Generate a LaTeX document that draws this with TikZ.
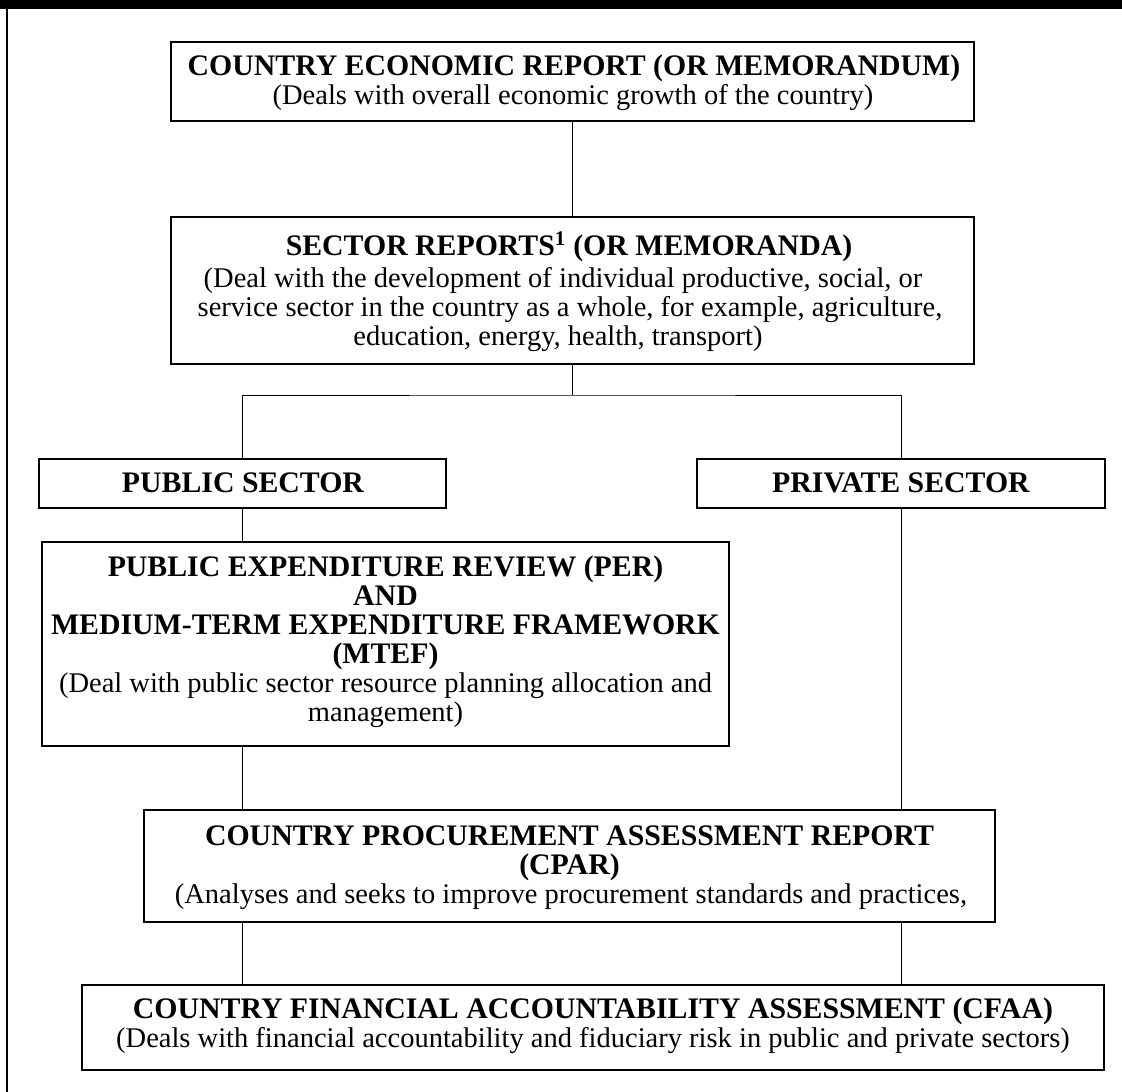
\documentclass[tikz,border=0pt]{standalone}
\usepackage{fontspec}
\setmainfont{Liberation Serif}
\begin{document}
\begin{tikzpicture}[x=1pt,y=-1pt,
  box/.style={draw, line width=1.6pt, inner sep=0pt, rectangle},
  conn/.style={draw, line width=1pt},
  ttl/.style={font=\fontsize{29.8}{30}\selectfont\bfseries, anchor=base, inner sep=0pt},
  sub/.style={font=\fontsize{28.5}{29}\selectfont, anchor=base, inner sep=0pt}]
\useasboundingbox (0,0) rectangle (1122,1092);
\fill[white] (0,0) rectangle (1122,1092);
% frame
\fill[black] (0,0) rectangle (1122,9);
\draw[line width=2pt] (7,0) -- (7,1092);
% boxes
\node[box, minimum width=803pt, minimum height=79pt] (b1) at (572.5,81.5) {};
\node[box, minimum width=803pt, minimum height=147pt] (b2) at (572.5,290.5) {};
\node[box, minimum width=407pt, minimum height=49pt] (pub) at (242.5,483.5) {};
\node[box, minimum width=408pt, minimum height=49pt] (priv) at (901,483.5) {};
\node[box, minimum width=687pt, minimum height=204pt] (per) at (385.5,644) {};
\node[box, minimum width=851pt, minimum height=112pt] (cpar) at (569.5,866) {};
\node[box, minimum width=1022pt, minimum height=85pt] (cfaa) at (593,1027.5) {};
% texts
\node[ttl] (b1a) at (574,75) {COUNTRY ECONOMIC REPORT (OR MEMORANDUM)};
\node[sub] (b1b) at (573,104) {(Deals with overall economic growth of the country)};
\node[ttl] (b2a) at (569,255) {SECTOR REPORTS\textsuperscript{1} (OR MEMORANDA)};
\node[sub] (b2b) at (563,287) {(Deal with the development of individual productive, social, or};
\node[sub] (b2c) at (570,316) {service sector in the country as a whole, for example, agriculture,};
\node[sub] (b2d) at (558,345) {education, energy, health, transport)};
\node[ttl] (puba) at (243,492) {PUBLIC SECTOR};
\node[ttl] (priva) at (901,492) {PRIVATE SECTOR};
\node[ttl] (pera) at (385.5,576) {PUBLIC EXPENDITURE REVIEW (PER)};
\node[ttl] (perb) at (385.5,605) {AND};
\node[ttl] (perc) at (385.5,634) {MEDIUM-TERM EXPENDITURE FRAMEWORK};
\node[ttl] (perd) at (385.5,663) {(MTEF)};
\node[sub] (pere) at (385.5,692) {(Deal with public sector resource planning allocation and};
\node[sub] (perf) at (385.5,721) {management)};
\node[ttl] (cpara) at (569.5,845) {COUNTRY PROCUREMENT ASSESSMENT REPORT};
\node[ttl] (cparb) at (569.5,874) {(CPAR)};
\node[sub] (cparc) at (571,903) {(Analyses and seeks to improve procurement standards and practices,};
\node[ttl] (cfaaa) at (593,1018) {COUNTRY FINANCIAL ACCOUNTABILITY ASSESSMENT (CFAA)};
\node[sub] (cfaab) at (593,1047) {(Deals with financial accountability and fiduciary risk in public and private sectors)};
% connectors
\draw[conn] (b1.south) -- (b2.north);
\coordinate (br) at (572.5,395);
\draw[conn] (b2.south) -- (br);
\draw[conn] (pub.north) |- (br) -| (priv.north);
\draw[conn] (pub.south) -- (per.north -| pub.south);
\draw[conn] (per.south -| pub.south) -- (cpar.north -| pub.south);
\draw[conn] (priv.south) -- (cpar.north -| priv.south);
\draw[conn] (cpar.south -| pub.south) -- (cfaa.north -| pub.south);
\draw[conn] (cpar.south -| priv.south) -- (cfaa.north -| priv.south);
\end{tikzpicture}
\end{document}
